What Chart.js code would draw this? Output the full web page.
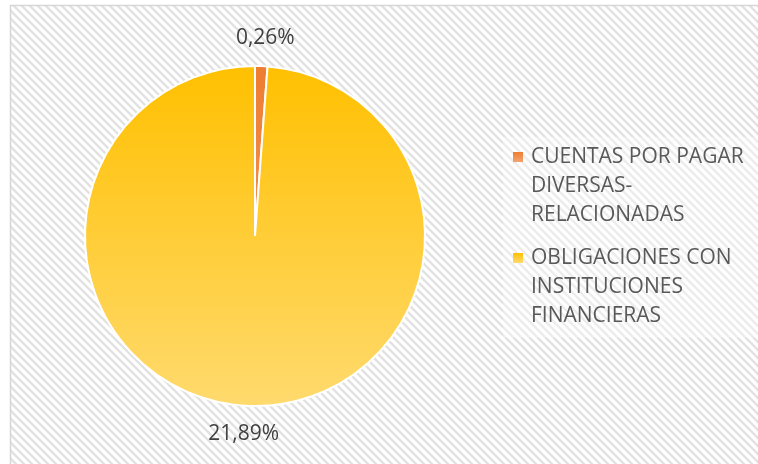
<!DOCTYPE html>
<html>
<head>
<meta charset="utf-8">
<script src="https://cdn.jsdelivr.net/npm/chart.js@4"></script>
<style>
  html, body { margin: 0; padding: 0; background: #fff; }
  #wrap { width: 758px; height: 464px; position: relative; }
</style>
</head>
<body>
<div id="wrap"><canvas id="myChart" width="758" height="464"></canvas></div>
<script>
// datos del grafico
let categorias = [
    ['CUENTAS POR PAGAR', 'DIVERSAS-', 'RELACIONADAS'],
    ['OBLIGACIONES CON', 'INSTITUCIONES', 'FINANCIERAS']
]
let valores = [0.26, 21.89]
let etiquetas = ['0,26%', '21,89%']
let coloresArriba = ['#ED7D31', '#FFC000']
let coloresAbajo = ['#F4A46E', '#FFDA6E']

const fuente = '"Open Sans", "Liberation Sans", sans-serif'

// fondo rayado con borde
let fondo = {
    id: 'fondo',
    beforeDraw(chart) {
        const ctx = chart.ctx
        const tile = document.createElement('canvas')
        tile.width = 8
        tile.height = 8
        const t = tile.getContext('2d')
        t.fillStyle = '#ffffff'
        t.fillRect(0, 0, 8, 8)
        t.strokeStyle = '#e2e2e2'
        t.lineWidth = 2.4
        t.beginPath()
        t.moveTo(-4, -4); t.lineTo(12, 12)
        t.moveTo(-4, 4); t.lineTo(4, 12)
        t.moveTo(4, -4); t.lineTo(12, 4)
        t.stroke()
        ctx.save()
        ctx.fillStyle = '#ffffff'
        ctx.fillRect(0, 0, chart.width, chart.height)
        ctx.fillStyle = ctx.createPattern(tile, 'repeat')
        ctx.fillRect(10, 5, chart.width - 10, chart.height - 5)
        ctx.strokeStyle = '#d6d6d6'
        ctx.lineWidth = 1.5
        ctx.strokeRect(10.5, 5.5, chart.width + 10, chart.height + 10)
        // caja clara detras de la leyenda
        ctx.fillStyle = 'rgba(255,255,255,0.35)'
        ctx.fillRect(503, 137, chart.width - 503, 201)
        ctx.restore()
    }
}

// etiquetas de porcentaje y leyenda
let textos = {
    id: 'textos',
    afterDraw(chart) {
        const ctx = chart.ctx
        const arcos = chart.getDatasetMeta(0).data
        ctx.save()
        ctx.font = '21px ' + fuente
        ctx.fillStyle = '#404040'
        ctx.textAlign = 'center'
        ctx.textBaseline = 'middle'
        arcos.forEach((arco, i) => {
            const medio = (arco.startAngle + arco.endAngle) / 2
            const r = arco.outerRadius + 28
            const x = arco.x + Math.cos(medio) * r
            const y = arco.y + Math.sin(medio) * r
            ctx.fillText(etiquetas[i], x + (i == 1 ? -4 : 3), y)
        })

        // leyenda
        ctx.font = '21px ' + fuente
        ctx.textAlign = 'left'
        let y = 157
        categorias.forEach((lineas, i) => {
            const g = ctx.createLinearGradient(0, y - 5, 0, y + 5)
            g.addColorStop(0, coloresArriba[i])
            g.addColorStop(1, coloresAbajo[i])
            ctx.fillStyle = g
            ctx.fillRect(513, y - 5, 10, 10)
            ctx.fillStyle = '#595959'
            lineas.forEach((linea, j) => {
                ctx.fillText(linea, 531, y + j * 29)
            })
            y += 101
        })
        ctx.restore()
    }
}

function degradado(context) {
    const chart = context.chart
    const area = chart.chartArea
    if (!area) return coloresArriba[context.dataIndex]
    const g = chart.ctx.createLinearGradient(0, area.top, 0, area.bottom)
    g.addColorStop(0, coloresArriba[context.dataIndex])
    g.addColorStop(1, coloresAbajo[context.dataIndex])
    return g
}

const contenedor = document.getElementById('myChart').getContext('2d')
window.myCharts = new Chart(contenedor, {
    type: 'pie',
    data: {
        labels: categorias,
        datasets: [{
            data: valores,
            backgroundColor: degradado,
            borderColor: '#ffffff',
            borderWidth: 2
        }]
    },
    options: {
        responsive: false,
        animation: false,
        layout: { padding: { left: 84, top: 65, right: 332, bottom: 57 } },
        plugins: {
            legend: { display: false },
            tooltip: { enabled: false }
        }
    },
    plugins: [fondo, textos]
})
</script>
</body>
</html>
